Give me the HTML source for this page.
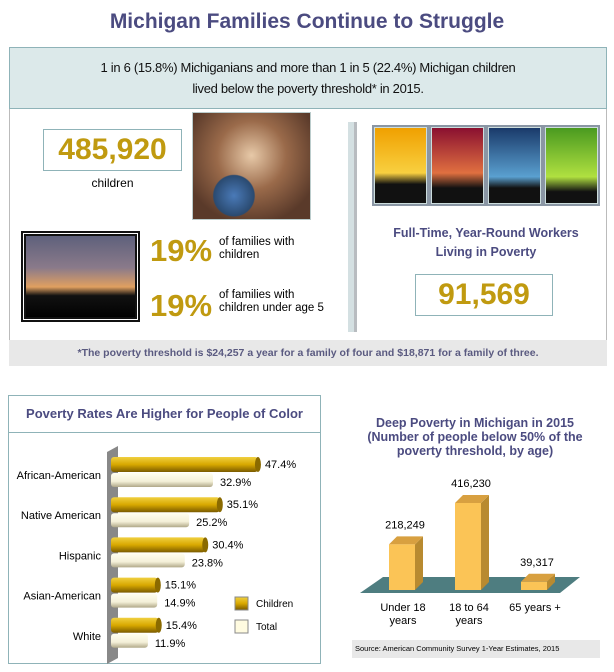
<!DOCTYPE html>
<html><head><meta charset="utf-8"><style>
*{margin:0;padding:0;box-sizing:border-box}
body{width:614px;height:672px;background:#fff;position:relative;overflow:hidden;font-family:"Liberation Sans",Arial,sans-serif}
.a{position:absolute}
.gold{color:#c09a10}
</style></head><body>
<div class="a" style="left:0;width:614px;top:10px;text-align:center;font-size:21px;font-weight:bold;color:#4b4b80">Michigan Families Continue to Struggle</div>
<div class="a" style="left:9px;top:47px;width:598px;height:62px;background:#dce9ea;border:1px solid #8fb3b8;text-align:center;font-size:13px;line-height:21px;padding-top:9px;color:#111;letter-spacing:-0.3px">1 in 6 (15.8%) Michiganians and more than 1 in 5 (22.4%) Michigan children<br>lived below the poverty threshold* in 2015.</div>
<div class="a" style="left:9px;top:109px;width:598px;height:257px;border-left:1px solid #bbb;border-right:1px solid #bbb"></div>
<div class="a" style="left:43px;top:129px;width:139px;height:42px;border:1px solid #8fb3b8;text-align:center;font-size:30px;line-height:40px;font-weight:bold"><span class="gold">485,920</span></div>
<div class="a" style="left:43px;top:176px;width:139px;text-align:center;font-size:12px">children</div>
<div class="a" style="left:192px;top:112px;width:119px;height:108px;border:1px solid #bcc;background:radial-gradient(circle at 35% 78%,#4a7ab8 0,#2a4a70 18%,transparent 19%),radial-gradient(circle at 50% 40%,#e7c9a8 0,#9a6a4a 40%,#5a3a2a 80%)"></div>
<div class="a" style="left:21px;top:231px;width:119px;height:91px;border:2px solid #111;box-shadow:inset 0 0 0 1px #fff,inset 0 0 0 3px #111;background:linear-gradient(#5a5e7a 0,#8a7a8a 40%,#e0a060 62%,#111 72%,#000 100%)"></div>
<div class="a gold" style="left:150px;top:233px;font-size:31px;font-weight:bold">19%</div>
<div class="a" style="left:219px;top:236px;font-size:11.5px;line-height:13px">of families with<br>children</div>
<div class="a gold" style="left:150px;top:288px;font-size:31px;font-weight:bold">19%</div>
<div class="a" style="left:219px;top:289px;font-size:11.5px;line-height:13px">of families with<br>children under age 5</div>
<div class="a" style="left:348px;top:122px;width:9px;height:210px;background:#d4e0e2;border-right:3px solid #b8bcc0"></div>
<div class="a" style="left:372px;top:125px;width:228px;height:81px;background:#8a96a4;padding:2px;display:flex;gap:4px">
<div style="flex:1;border:1px solid #cdd;background:linear-gradient(#f0a000,#f8d040 60%,#111 75%)"></div>
<div style="flex:1;border:1px solid #cdd;background:linear-gradient(#8a1030,#e07040 60%,#111 80%)"></div>
<div style="flex:1;border:1px solid #cdd;background:linear-gradient(#1a3a6a,#5aa0d0 65%,#111 80%)"></div>
<div style="flex:1;border:1px solid #cdd;background:linear-gradient(#4a9a20,#b0e040 65%,#111 85%)"></div></div>
<div class="a" style="left:372px;top:224px;width:228px;text-align:center;font-size:12.5px;line-height:19px;font-weight:bold;color:#4b4b80">Full-Time, Year-Round Workers<br>Living in Poverty</div>
<div class="a" style="left:415px;top:274px;width:138px;height:42px;border:1px solid #8fb3b8;text-align:center;font-size:30px;line-height:40px;font-weight:bold"><span class="gold">91,569</span></div>
<div class="a" style="left:9px;top:340px;width:598px;height:26px;background:#e8e8e8;text-align:center;font-size:10.5px;line-height:26px;font-weight:bold;color:#5a5a80">*The poverty threshold is $24,257 a year for a family of four and $18,871 for a family of three.</div>

<div class="a" style="left:8px;top:395px;width:313px;height:38px;border:1px solid #8fb3b8;text-align:center;font-size:13px;line-height:36px;font-weight:bold;color:#4b4b80">Poverty Rates Are Higher for People of Color</div>
<div class="a" style="left:8px;top:433px;width:313px;height:231px;border:1px solid #8fb3b8;border-top:none"></div>
<svg class="a" style="left:0;top:0" width="614" height="672" id="svg">
<defs>
<linearGradient id="gc" x1="0" y1="0" x2="0" y2="1"><stop offset="0" stop-color="#f0d040"/><stop offset="0.5" stop-color="#d8a800"/><stop offset="1" stop-color="#7a5a00"/></linearGradient>
<linearGradient id="gt" x1="0" y1="0" x2="0" y2="1"><stop offset="0" stop-color="#fffef0"/><stop offset="0.6" stop-color="#f4f0d8"/><stop offset="1" stop-color="#b0a888"/></linearGradient>
</defs>
<polygon points="107,452 118,446 118,658 107,664" fill="#888"/>
</svg>
<div class="a" style="left:340px;top:416px;width:270px;text-align:center;font-size:12.5px;line-height:14px;font-weight:bold;color:#4b4b80">Deep Poverty in Michigan in 2015<br>(Number of people below 50% of the<br>poverty threshold, by age)</div>
<div class="a" style="left:352px;top:640px;width:248px;height:18px;background:#e8e8e8;font-size:7.5px;line-height:18px;padding-left:3px">Source: American Community Survey 1-Year Estimates, 2015</div>
<script>
const raceCats=["African-American","Native American","Hispanic","Asian-American","White"];
const childVals=[47.4,35.1,30.4,15.1,15.4];
const totalVals=[32.9,25.2,23.8,14.9,11.9];
const ageCats=[["Under 18","years"],["18 to 64","years"],["65 years +"]];
const ageVals=[218249,416230,39317];
const ns="http://www.w3.org/2000/svg";
const svg=document.getElementById('svg');
function mk(t,a,txt){const e=document.createElementNS(ns,t);for(const k in a)e.setAttribute(k,a[k]);if(txt!=null)e.textContent=txt;svg.appendChild(e);return e;}
const x0=111,xs=3.1;
const xS=v=>x0+v*xs;
raceCats.forEach((c,i)=>{
 const y=457+i*40.2;
 let b=mk('rect',{x:x0,y:y,width:xS(childVals[i])-x0,height:15,rx:3,fill:'url(#gc)'});
 
 
 let e=mk('ellipse',{cx:xS(childVals[i]),cy:y+7.5,rx:3,ry:7.5,fill:'#8a6a00'});
 
 
 let t=mk('text',{x:xS(childVals[i])+7,y:y+11,'font-size':11},childVals[i].toFixed(1)+'%');
 
 
 let b2=mk('rect',{x:x0,y:y+16,width:xS(totalVals[i])-x0,height:14,rx:3,fill:'url(#gt)'});
 
 
 let t2=mk('text',{x:xS(totalVals[i])+7,y:y+29,'font-size':11},totalVals[i].toFixed(1)+'%');
 
 
 let l=mk('text',{x:101,y:y+22,'font-size':11,'text-anchor':'end'},c);
 
 
});
[["Children","url(#gc)",597],["Total","#fffbe0",620]].forEach(([n,f,y])=>{
 let r=mk('rect',{x:235,y:y,width:13,height:13,fill:f,stroke:'#888'});
 
 
 let t=mk('text',{x:256,y:y+10,'font-size':10},n);
 
 
});
const base=590,hs=87/416230,bx=[389,455,521],bw=26,d=8;
let fl=mk('polygon',{points:'360,593 383,577 580,577 560,593',fill:'#4e7d80'});


ageVals.forEach((v,i)=>{
 const h=v*hs,x=bx[i],top=base-h;
 let s=mk('polygon',{points:`${x+bw},${top} ${x+bw+d},${top-d} ${x+bw+d},${base-d} ${x+bw},${base}`,fill:'#b88a30'});
 
 
 let tp=mk('polygon',{points:`${x},${top} ${x+d},${top-d} ${x+bw+d},${top-d} ${x+bw},${top}`,fill:'#d8a040'});
 
 
 let f=mk('rect',{x:x,y:top,width:bw,height:h,fill:'#fbc456'});
 
 
 let t=mk('text',{x:x+bw/2+3,y:top-16,'font-size':11,'text-anchor':'middle'},v.toLocaleString('en-US'));
 
 
 ageCats[i].forEach((ln,j)=>{
  let c=mk('text',{x:x+bw/2+1,y:611+j*13,'font-size':11,'text-anchor':'middle'},ln);
  
  
 });
});
</script>
</body></html>
